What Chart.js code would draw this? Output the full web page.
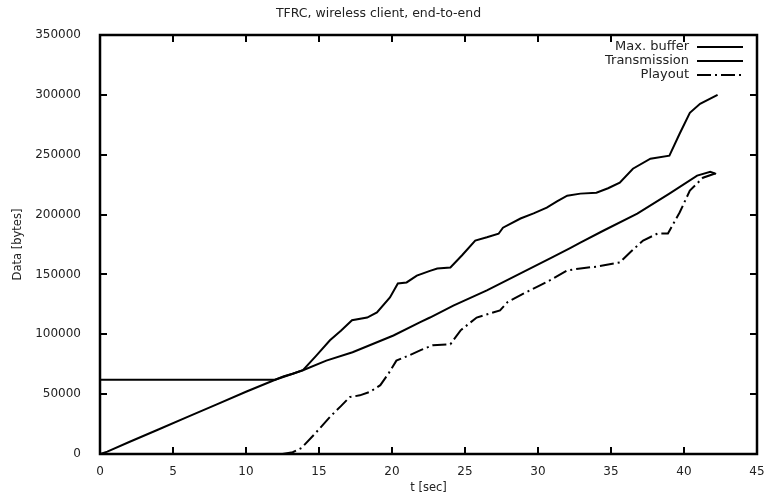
<!DOCTYPE html>
<html>
<head>
<meta charset="utf-8">
<script src="https://cdn.jsdelivr.net/npm/chart.js@4.4.0/dist/chart.umd.min.js"></script>
<style>
  html, body { margin: 0; padding: 0; background: #fff; }
  #wrap { width: 770px; height: 503px; }
</style>
</head>
<body>
<div id="wrap"><canvas id="c" width="770" height="503"></canvas></div>
<script>
// ---- data ----
const titleText = 'TFRC, wireless client, end-to-end';
const xTitle = 't [sec]';
const yTitle = 'Data [bytes]';
const seriesLabels = ['Max. buffer', 'Transmission', 'Playout'];

const maxBufT = [0, 12.0, 12.6, 13.2, 13.9, 14.8, 15.75, 16.5, 17.26, 18.3, 18.97, 19.86, 20.4, 21.0, 21.7, 22.6, 23.1, 24.0, 24.8, 25.7, 26.5, 27.3, 27.6, 28.8, 29.7, 30.6, 31.3, 32.0, 32.9, 34.0, 34.8, 35.6, 36.5, 37.7, 39.0, 39.7, 40.4, 41.1, 42.3];
const maxBufV = [62000, 62000, 65000, 67000, 70000, 82000, 95000, 103000, 111700, 114000, 118300, 130800, 142500, 143300, 149000, 153000, 155000, 155800, 166000, 178300, 181000, 184000, 189000, 196700, 201000, 205800, 211000, 215800, 217500, 218300, 222000, 226700, 238300, 246700, 249200, 267500, 285000, 292500, 300000];

const transT = [0, 0.5, 2, 4, 6, 8, 10, 12, 13.9, 15.5, 17.3, 20.1, 21.9, 22.6, 24.2, 26.5, 28.8, 31.0, 32.2, 32.9, 34.5, 36.8, 39.0, 40.9, 41.8, 42.2];
const transV = [0, 2000, 10000, 20500, 31000, 41500, 52000, 62000, 70000, 78000, 85000, 99000, 110000, 114000, 124000, 136700, 150800, 164500, 172000, 176500, 186700, 200800, 217500, 232500, 235800, 234000];

const playT = [12.5, 13.2, 13.8, 14.8, 15.75, 16.5, 17.1, 17.8, 18.5, 19.2, 19.8, 20.3, 21.2, 22.0, 22.8, 24.0, 24.7, 25.8, 26.6, 27.4, 27.9, 29.0, 30.0, 30.8, 32.0, 32.9, 34.0, 35.6, 36.3, 37.2, 38.2, 38.9, 39.7, 40.4, 41.3, 42.3];
const playV = [0, 1500, 5000, 18000, 31000, 40000, 47500, 49000, 52000, 57500, 68000, 78000, 82500, 87000, 90800, 91700, 103300, 114000, 117000, 120000, 126700, 134000, 140000, 145000, 153300, 155000, 156500, 160000, 168300, 178300, 184200, 184200, 201700, 220000, 230800, 235000];

const xMin = 0, xMax = 45, xStep = 5;
const yMin = 0, yMax = 350000, yStep = 50000;

// ---- build chart ----
const toXY = (ts, vs) => ts.map((t, i) => ({ x: t, y: vs[i] }));
const FONT = '"DejaVu Sans", "Liberation Sans", sans-serif';
const TEXT = '#222';

const framePlugin = {
  id: 'gpFrame',
  afterDraw(chart) {
    const { ctx, chartArea: a, scales } = chart;
    const L = 7;
    ctx.save();
    ctx.strokeStyle = '#000';
    ctx.lineWidth = 2.5;
    ctx.setLineDash([]);
    ctx.strokeRect(a.left, a.top, a.right - a.left, a.bottom - a.top);
    ctx.lineWidth = 2;
    ctx.beginPath();
    scales.x.ticks.forEach(t => {
      const px = Math.round(scales.x.getPixelForValue(t.value));
      ctx.moveTo(px, a.bottom); ctx.lineTo(px, a.bottom - L);
      ctx.moveTo(px, a.top); ctx.lineTo(px, a.top + L);
    });
    scales.y.ticks.forEach(t => {
      const py = Math.round(scales.y.getPixelForValue(t.value));
      ctx.moveTo(a.left, py); ctx.lineTo(a.left + L, py);
      ctx.moveTo(a.right, py); ctx.lineTo(a.right - L, py);
    });
    ctx.stroke();
    ctx.restore();
  }
};

const legendPlugin = {
  id: 'gpLegend',
  afterDraw(chart) {
    const { ctx, chartArea: a } = chart;
    const rowOffsets = [12, 26, 40];
    chart.data.datasets.forEach((ds, i) => {
      const y = a.top + rowOffsets[i];
      ctx.save();
      ctx.font = '13px ' + FONT;
      ctx.fillStyle = TEXT;
      ctx.textAlign = 'right';
      ctx.textBaseline = 'middle';
      ctx.fillText(ds.label, a.right - 68, y);
      ctx.strokeStyle = ds.borderColor;
      ctx.lineWidth = ds.borderWidth;
      ctx.setLineDash(ds.borderDash || []);
      ctx.beginPath();
      ctx.moveTo(a.right - 60, y);
      ctx.lineTo(a.right - 14, y);
      ctx.stroke();
      ctx.restore();
    });
  }
};

new Chart(document.getElementById('c'), {
  type: 'line',
  data: {
    datasets: [
      { label: seriesLabels[0], data: toXY(maxBufT, maxBufV), borderColor: '#000', borderWidth: 2, pointRadius: 0, tension: 0, fill: false },
      { label: seriesLabels[1], data: toXY(transT, transV), borderColor: '#000', borderWidth: 2, pointRadius: 0, tension: 0, fill: false },
      { label: seriesLabels[2], data: toXY(playT, playV), borderColor: '#000', borderWidth: 2, borderDash: [14, 4, 2, 4], pointRadius: 0, tension: 0, fill: false }
    ]
  },
  options: {
    responsive: false,
    animation: false,
    devicePixelRatio: 1,
    layout: { padding: { top: 0, right: 13, bottom: 0, left: 0 } },
    plugins: {
      legend: { display: false },
      tooltip: { enabled: false },
      title: {
        display: true,
        text: titleText,
        color: TEXT,
        font: { family: FONT, size: 12.5, weight: 'normal', lineHeight: 1.2 },
        padding: { top: 6, bottom: 14 }
      }
    },
    scales: {
      x: {
        type: 'linear',
        min: xMin, max: xMax,
        grid: { display: false },
        border: { display: false },
        ticks: { stepSize: xStep, color: TEXT, font: { family: FONT, size: 12 }, padding: 3, maxRotation: 0 },
        title: { display: true, text: xTitle, color: TEXT, font: { family: FONT, size: 11.5 }, padding: { top: 0, bottom: 8 } },
        afterFit(scale) { scale.height = 49; }
      },
      y: {
        type: 'linear',
        min: yMin, max: yMax,
        grid: { display: false },
        border: { display: false },
        ticks: { stepSize: yStep, color: TEXT, font: { family: FONT, size: 12 }, padding: 11, callback: v => String(v) },
        title: { display: true, text: yTitle, color: TEXT, font: { family: FONT, size: 11.5 }, padding: { top: 11, bottom: 0 } },
        afterFit(scale) { scale.width = 100; }
      }
    }
  },
  plugins: [framePlugin, legendPlugin]
});
</script>
</body>
</html>
